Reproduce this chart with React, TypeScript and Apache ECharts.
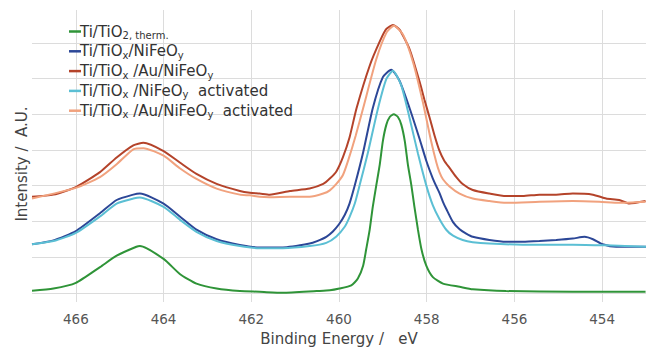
import React, { useEffect, useRef } from "react";
import * as echarts from "echarts";

// Binding energies (eV) and intensities (A.U., offset stacked)
const energyGreen = [467.0, 466.51, 466.0, 465.45, 465.07, 464.62, 464.54, 464.0, 463.63, 463.25, 462.79, 462.26, 461.81, 461.28, 460.51, 460.21, 459.99, 459.72, 459.57, 459.45, 459.38, 459.3, 459.23, 459.15, 459.07, 459.0, 458.92, 458.84, 458.75, 458.66, 458.58, 458.5, 458.43, 458.35, 458.28, 458.2, 458.12, 458.01, 457.86, 457.63, 457.25, 456.95, 456.19, 454.67, 453.01];
const intensityGreen = [0.06, 0.12, 0.28, 0.72, 1.04, 1.29, 1.31, 0.95, 0.53, 0.26, 0.12, 0.05, 0.03, 0.0, 0.05, 0.07, 0.12, 0.21, 0.4, 0.76, 1.22, 1.77, 2.41, 3.01, 3.6, 4.25, 4.71, 4.93, 5.0, 4.93, 4.71, 4.25, 3.6, 3.01, 2.41, 1.77, 1.22, 0.76, 0.44, 0.26, 0.17, 0.1, 0.05, 0.03, 0.03];

const energyBlue = [467.0, 466.51, 466.0, 465.45, 465.07, 464.69, 464.54, 464.0, 463.63, 463.25, 462.79, 462.26, 461.81, 461.28, 460.67, 460.5, 460.29, 460.14, 460.0, 459.87, 459.76, 459.64, 459.45, 459.23, 459.0, 458.81, 458.62, 458.39, 458.16, 458.01, 457.86, 457.78, 457.71, 457.63, 457.55, 457.4, 457.25, 457.1, 456.95, 456.57, 456.19, 455.81, 455.43, 455.05, 454.67, 454.4, 454.21, 453.99, 453.68, 453.0];
const intensityBlue = [1.36, 1.47, 1.73, 2.23, 2.6, 2.75, 2.78, 2.5, 2.14, 1.77, 1.5, 1.34, 1.27, 1.27, 1.38, 1.45, 1.57, 1.72, 1.92, 2.18, 2.5, 3.01, 3.93, 5.17, 6.04, 6.25, 5.94, 5.17, 4.3, 3.7, 3.2, 2.98, 2.8, 2.55, 2.34, 1.98, 1.78, 1.66, 1.57, 1.48, 1.43, 1.43, 1.45, 1.48, 1.52, 1.57, 1.5, 1.36, 1.29, 1.29];

const energyRed = [467.0, 466.51, 466.0, 465.45, 465.07, 464.69, 464.46, 464.0, 463.63, 463.25, 462.79, 462.26, 462.03, 461.81, 461.58, 461.12, 460.67, 460.36, 460.21, 460.06, 459.91, 459.76, 459.6, 459.3, 459.07, 458.92, 458.77, 458.62, 458.39, 458.16, 458.05, 457.93, 457.82, 457.71, 457.6, 457.48, 457.33, 457.18, 456.95, 456.57, 456.19, 455.81, 455.43, 455.05, 454.67, 454.21, 453.91, 453.61, 453.38, 453.01];
const intensityRed = [2.69, 2.75, 2.96, 3.38, 3.79, 4.13, 4.2, 3.97, 3.65, 3.33, 3.05, 2.85, 2.8, 2.78, 2.75, 2.85, 2.92, 3.05, 3.2, 3.4, 3.8, 4.35, 5.17, 6.36, 7.04, 7.39, 7.5, 7.37, 6.82, 5.9, 5.4, 4.89, 4.4, 3.98, 3.7, 3.5, 3.25, 3.05, 2.88, 2.78, 2.71, 2.71, 2.75, 2.75, 2.78, 2.75, 2.64, 2.6, 2.5, 2.57];

const energyCyan = [467.0, 466.51, 466.0, 465.45, 465.07, 464.69, 464.54, 464.0, 463.63, 463.25, 462.79, 462.26, 461.81, 461.28, 460.67, 460.29, 460.06, 459.87, 459.76, 459.64, 459.53, 459.34, 459.11, 458.92, 458.77, 458.58, 458.39, 458.2, 458.01, 457.86, 457.71, 457.55, 457.4, 457.18, 456.95, 456.57, 455.81, 454.67, 453.91, 453.0];
const intensityCyan = [1.36, 1.45, 1.68, 2.14, 2.5, 2.64, 2.67, 2.41, 2.05, 1.71, 1.45, 1.31, 1.25, 1.25, 1.31, 1.4, 1.58, 1.85, 2.12, 2.5, 3.01, 3.93, 5.17, 5.99, 6.22, 5.81, 4.89, 3.9, 3.01, 2.45, 2.07, 1.76, 1.6, 1.48, 1.42, 1.38, 1.35, 1.35, 1.33, 1.29];

const energySalmon = [467.0, 466.0, 465.45, 465.07, 464.69, 464.46, 464.0, 463.63, 463.25, 462.79, 462.26, 462.03, 461.81, 461.58, 461.12, 460.67, 460.36, 460.21, 460.06, 459.91, 459.78, 459.62, 459.45, 459.15, 458.92, 458.75, 458.54, 458.31, 458.09, 457.9, 457.78, 457.71, 457.63, 457.48, 457.25, 456.95, 456.57, 456.19, 455.43, 454.67, 454.06, 453.61, 453.01];
const intensitySalmon = [2.64, 2.94, 3.24, 3.6, 4.02, 4.05, 3.84, 3.49, 3.19, 2.92, 2.75, 2.73, 2.69, 2.68, 2.69, 2.69, 2.78, 2.87, 3.05, 3.3, 3.75, 4.4, 5.17, 6.54, 7.28, 7.48, 7.23, 6.45, 5.35, 4.25, 3.65, 3.38, 3.18, 2.98, 2.78, 2.64, 2.57, 2.52, 2.55, 2.57, 2.55, 2.52, 2.55];

const seriesNames = ["green", "blue", "red", "cyan", "salmon"];
const legendLabels: Record<string, string> = {
  green: "{m|Ti/TiO}{s|2, therm.}",
  blue: "{m|Ti/TiO}{s|x}{m|/NiFeO}{s|y}",
  red: "{m|Ti/TiO}{s|x}{m| /Au/NiFeO}{s|y}",
  cyan: "{m|Ti/TiO}{s|x}{m| /NiFeO}{s|y}{m|  activated}",
  salmon: "{m|Ti/TiO}{s|x}{m| /Au/NiFeO}{s|y}{m|  activated}",
};
const colors = ["#2f9438", "#2c4797", "#b4432a", "#5bbfd4", "#f1a27e"];
const energies = [energyGreen, energyBlue, energyRed, energyCyan, energySalmon];
const intensities = [intensityGreen, intensityBlue, intensityRed, intensityCyan, intensitySalmon];

const FONT = "DejaVu Sans";

export default function App() {
  const ref = useRef<HTMLDivElement>(null);
  useEffect(() => {
    if (!ref.current) return;
    const chart = echarts.init(ref.current, undefined, { renderer: "svg" });
    const drawOrder = [0, 1, 3, 2, 4];
    chart.setOption({
      animation: false,
      grid: { left: 32, right: 0, top: 10, bottom: 44 },
      legend: {
        orient: "vertical",
        left: 64,
        top: 19,
        itemGap: 3.3,
        itemWidth: 12,
        itemHeight: 2.5,
        icon: "rect",
        data: seriesNames,
        formatter: (n: string) => legendLabels[n],
        textStyle: {
          fontFamily: FONT,
          color: "#333",
          padding: [0, 0, 0, -6],
          rich: {
            m: { fontFamily: FONT, fontSize: 15, color: "#333", lineHeight: 18 },
            s: { fontFamily: FONT, fontSize: 10, color: "#333", lineHeight: 12, verticalAlign: "bottom", padding: [6, 0, 0, 0] },
          },
        },
      },
      xAxis: {
        type: "value",
        inverse: true,
        min: 453,
        max: 467,
        splitNumber: 7,
        name: "Binding Energy /   eV",
        nameLocation: "middle",
        nameGap: 29,
        nameTextStyle: { fontFamily: FONT, fontSize: 15, color: "#444" },
        axisLine: { show: false },
        axisTick: { show: false },
        axisLabel: { fontFamily: FONT, fontSize: 13.5, color: "#555", margin: 10, showMinLabel: false, showMaxLabel: false },
        splitLine: { show: true, showMinLine: false, showMaxLine: false, lineStyle: { color: "#dcdcdc", width: 1 } },
      },
      yAxis: {
        type: "value",
        min: -0.256,
        max: 7.92,
        splitNumber: 8,
        name: "Intensity /  A.U.",
        nameLocation: "middle",
        nameGap: 3,
        nameTextStyle: { fontFamily: FONT, fontSize: 15, color: "#444", padding: [0, 16, 0, 0] },
        axisLine: { show: false },
        axisTick: { show: false },
        axisLabel: { show: false },
        splitLine: { show: true, showMinLine: false, showMaxLine: false, lineStyle: { color: "#dcdcdc", width: 1 } },
      },
      series: drawOrder.map((i) => ({
        name: seriesNames[i],
        type: "line",
        showSymbol: false,
        smooth: 0.2,
        color: colors[i],
        lineStyle: { width: 2, color: colors[i] },
        data: energies[i].map((e, k) => [e, intensities[i][k]]),
      })),
    });
    return () => chart.dispose();
  }, []);
  return <div ref={ref} style={{ width: 646, height: 351, position: "absolute", left: 0, top: 0 }} />;
}
